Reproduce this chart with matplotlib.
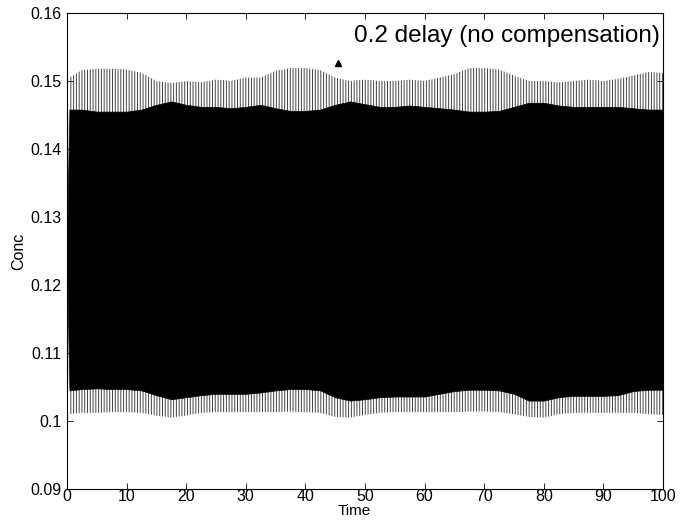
import numpy as np
import matplotlib.pyplot as plt

plt.rcParams['font.family'] = ['Liberation Sans', 'DejaVu Sans']
plt.rcParams['hatch.linewidth'] = 0.7

# envelope of the oscillation
t = [0, 0.4, 2.5, 5, 7.5, 10, 12.5, 15, 17.5, 20, 22.5, 25, 27.5, 30, 32.5, 35,
     37.5, 40, 42.5, 45, 47.5, 50, 52.5, 55, 57.5, 60, 62.5, 65, 67.5, 70,
     72.5, 75, 77.5, 80, 82.5, 85, 87.5, 90, 92.5, 95, 97.5, 100]

outer_top = [0.125, 0.1505, 0.1516, 0.1518, 0.1518, 0.1517, 0.1512, 0.1500, 0.1497,
             0.1500, 0.1498, 0.1502, 0.1500, 0.1505, 0.1505, 0.1515, 0.1519, 0.1519,
             0.1516, 0.1505, 0.1500, 0.1502, 0.1500, 0.1500, 0.1502, 0.1500, 0.1505,
             0.1510, 0.1519, 0.1519, 0.1517, 0.1508, 0.1500, 0.1500, 0.1498, 0.1500,
             0.1502, 0.1500, 0.1503, 0.1508, 0.1513, 0.1512]
outer_bot = [0.125, 0.1010, 0.1012, 0.1012, 0.1013, 0.1013, 0.1012, 0.1008, 0.1005,
             0.1008, 0.1012, 0.1013, 0.1013, 0.1013, 0.1013, 0.1013, 0.1014, 0.1013,
             0.1012, 0.1006, 0.1005, 0.1009, 0.1012, 0.1013, 0.1013, 0.1013, 0.1013,
             0.1013, 0.1014, 0.1014, 0.1013, 0.1010, 0.1006, 0.1005, 0.1010, 0.1012,
             0.1012, 0.1012, 0.1012, 0.1012, 0.1010, 0.1009]
inner_top = [0.125, 0.1458, 0.1458, 0.1455, 0.1455, 0.1455, 0.1458, 0.1465, 0.1470,
             0.1465, 0.1462, 0.1462, 0.1460, 0.1462, 0.1465, 0.1460, 0.1456, 0.1456,
             0.1458, 0.1465, 0.1470, 0.1466, 0.1462, 0.1462, 0.1464, 0.1462, 0.1460,
             0.1458, 0.1455, 0.1455, 0.1456, 0.1462, 0.1468, 0.1468, 0.1464, 0.1462,
             0.1462, 0.1462, 0.1462, 0.1460, 0.1458, 0.1458]
inner_bot = [0.125, 0.1045, 0.1047, 0.1048, 0.1047, 0.1047, 0.1045, 0.1038, 0.1032,
             0.1035, 0.1038, 0.1040, 0.1040, 0.1040, 0.1042, 0.1045, 0.1047, 0.1047,
             0.1045, 0.1035, 0.1030, 0.1032, 0.1035, 0.1036, 0.1036, 0.1036, 0.1040,
             0.1044, 0.1046, 0.1046, 0.1045, 0.1040, 0.1030, 0.1030, 0.1035, 0.1037,
             0.1037, 0.1037, 0.1038, 0.1044, 0.1046, 0.1046]

fig = plt.figure(figsize=(6.81, 5.2), dpi=100)
ax = fig.add_axes([0.0984, 0.0596, 0.875, 0.9154])

# thin grey strokes of the outer swing, solid black core
ax.fill_between(t, outer_bot, outer_top, facecolor='white', edgecolor='#444444',
                hatch='||||||', linewidth=0)
ax.fill_between(t, inner_bot, inner_top, facecolor='black', edgecolor='black',
                linewidth=0.5)

ax.set_xlim(0, 100)
ax.set_ylim(0.09, 0.16)
ax.set_xticks(range(0, 101, 10))
ax.set_yticks([0.09, 0.1, 0.11, 0.12, 0.13, 0.14, 0.15, 0.16])
ax.set_yticklabels(['0.09', '0.1', '0.11', '0.12', '0.13', '0.14', '0.15', '0.16'])
ax.tick_params(direction='in', top=True, right=True, labelsize=11.5, length=4, width=0.6)
ax.tick_params(axis='x', pad=0)
ax.tick_params(axis='y', pad=4)
for s in ax.spines.values():
    s.set_linewidth(0.8)
ax.set_xlabel('Time', fontsize=11)
ax.xaxis.set_label_coords(0.4815, -0.032)
ax.set_ylabel('Conc', fontsize=11.5, labelpad=3)

ax.text(0.995, 0.952, '0.2 delay (no compensation)', transform=ax.transAxes,
        ha='right', va='center', fontsize=17.5)
ax.plot([45.5], [0.1527], marker='^', color='black', markersize=5)

fig.savefig('out.png', dpi=100)
